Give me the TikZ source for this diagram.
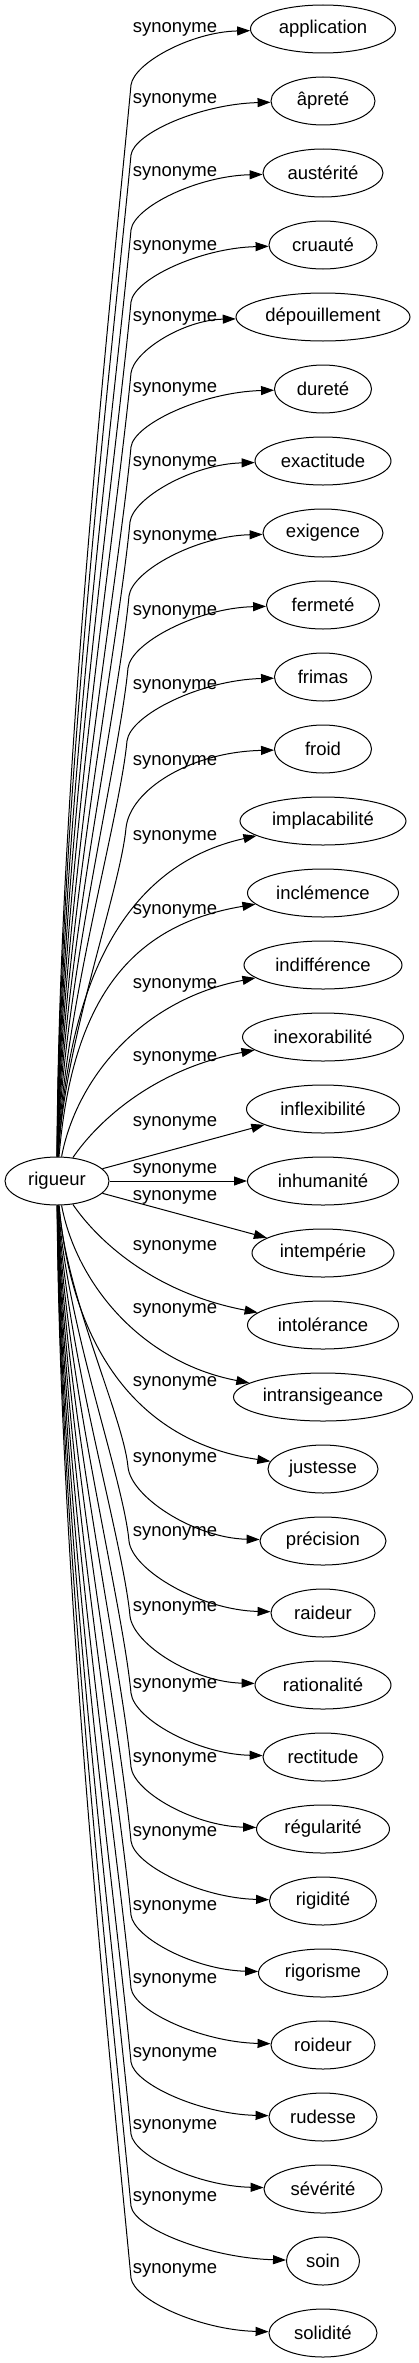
\documentclass[tikz,border=0pt]{standalone}
\usepackage{fontspec}
\setmainfont{Liberation Sans}
\usetikzlibrary{arrows.meta,shapes.geometric}
\begin{document}
\begin{tikzpicture}[x=1pt,y=-1pt,
  every node/.style={font=\fontsize{18.5}{22}\selectfont},
  term/.style={ellipse,draw,line width=1pt,minimum height=48pt,inner sep=0pt},
  lbl/.style={inner sep=0pt},
  link/.style={line width=1pt,-{Triangle[length=13pt,width=9pt]}}]
\fill[white] (0,0) rectangle (418,2363);
\useasboundingbox (0,0) rectangle (418,2363);
\node[term,minimum width=104pt] (r) at (57,1181) {rigueur};
\foreach \i/\t/\w in {0/application/145,1/âpreté/104,2/austérité/120,3/cruauté/108,4/dépouillement/174,5/dureté/97,6/exactitude/136,7/exigence/120,8/fermeté/113,9/frimas/97,10/froid/97,11/implacabilité/166,12/inclémence/151,13/indifférence/158,14/inexorabilité/161,15/inflexibilité/153,16/inhumanité/151,17/intempérie/142,18/intolérance/151,19/intransigeance/179,20/justesse/110,21/précision/126,22/raideur/104,23/rationalité/136,24/rectitude/120,25/régularité/133,26/rigidité/107,27/rigorisme/129,28/roideur/104,29/rudesse/108,30/sévérité/118,31/soin/73,32/solidité/108}
  {\node[term,minimum width=\w pt] (t\i) at (323,{29+72*\i}) {\t};}
\foreach \i/\L in {0/29,1/100,2/173,3/247,4/318,5/389,6/463,7/537,8/612,9/686,10/762,11/837,12/911,13/985,14/1058,15/1123,16/1170,17/1197,18/1247,19/1310,20/1383,21/1459,22/1533,23/1608,24/1685,25/1759,26/1833,27/1907,28/1980,29/2054,30/2126,31/2198,32/2270}
  {\node[lbl] (s\i) at (175,\L) {synonyme};}
% upper edges
\draw[link] (r) .. controls (58,782) and (112,289) .. (131,85) .. controls (134,63) and (191,32) .. (t0);
\draw[link] (r) .. controls (58.6,806) and (113,345) .. (131,155) .. controls (134,133) and (201,104) .. (t1);
\draw[link] (r) .. controls (59.2,833) and (114.3,406) .. (131,230) .. controls (134,207) and (197,176) .. (t2);
\draw[link] (r) .. controls (59.8,858) and (115.6,464) .. (131,302) .. controls (134,279) and (200,248) .. (t3);
\draw[link] (r) .. controls (60.4,883) and (116.9,522) .. (131,373) .. controls (134,351) and (183.5,320) .. (t4);
\draw[link] (r) .. controls (61,908) and (118.2,582) .. (131,447) .. controls (134,424) and (202.75,392) .. (t5);
\draw[link] (r) .. controls (61.6,935) and (118.6,643) .. (130,522) .. controls (133,498) and (192.5,464) .. (t6);
\draw[link] (r) .. controls (62.2,961) and (118.9,703) .. (129,596) .. controls (132,571) and (196,536) .. (t7);
\draw[link] (r) .. controls (62.8,986) and (119.2,761) .. (128,668) .. controls (131,643) and (197,608) .. (t8);
\draw[link] (r) .. controls (63.4,1011) and (119.5,820) .. (127,741) .. controls (130,715) and (200.75,680) .. (t9);
\draw[link] (r) .. controls (64,1042) and (120,891) .. (126,828) .. controls (130,790) and (190,752) .. (t10);
\draw[link] (r) .. controls (68,980) and (125,865) .. (t11);
\draw[link] (r) .. controls (72,1000) and (130,925) .. (t12);
\draw[link] (r) .. controls (76,1080) and (140,1000) .. (t13);
\draw[link] (r) .. controls (95,1125) and (150,1070) .. (t14);
\draw[link] (r) -- (t15);
\draw[link] (r) -- (t16);
% lower edges
\draw[link] (r) -- (t17);
\draw[link] (r) .. controls (95,1237) and (150,1292) .. (t18);
\draw[link] (r) .. controls (76,1282) and (140,1362) .. (t19);
\draw[link] (r) .. controls (70,1330) and (125,1440) .. (t20);
\draw[link] (r) .. controls (66,1297) and (123.3,1417) .. (128,1467) .. controls (131,1497) and (194,1538) .. (t21);
\draw[link] (r) .. controls (65.4,1323) and (123,1477) .. (129,1541) .. controls (132,1570) and (200,1610) .. (t22);
\draw[link] (r) .. controls (64.8,1349) and (122.6,1538) .. (130,1616) .. controls (133,1644) and (192.5,1682) .. (t23);
\draw[link] (r) .. controls (64.2,1376) and (122.2,1600) .. (131,1693) .. controls (134,1719) and (197,1754) .. (t24);
\draw[link] (r) .. controls (63.6,1402) and (121,1660) .. (131,1767) .. controls (134,1792) and (193.75,1826) .. (t25);
\draw[link] (r) .. controls (63,1428) and (119.6,1720) .. (131,1841) .. controls (134,1865) and (200.25,1898) .. (t26);
\draw[link] (r) .. controls (62.4,1453.5) and (118.2,1780) .. (131,1915) .. controls (134,1938) and (194.75,1970) .. (t27);
\draw[link] (r) .. controls (61.8,1479) and (116.9,1839) .. (131,1988) .. controls (134,2011) and (201,2042) .. (t28);
\draw[link] (r) .. controls (61.2,1505) and (115.6,1899) .. (131,2062) .. controls (134,2084) and (200,2114) .. (t29);
\draw[link] (r) .. controls (60.6,1530) and (114.3,1957) .. (131,2134) .. controls (134,2156) and (197.5,2186) .. (t30);
\draw[link] (r) .. controls (60,1555) and (113,2016) .. (131,2206) .. controls (134,2228) and (208.75,2258) .. (t31);
\draw[link] (r) .. controls (59.4,1580.5) and (111.7,2074) .. (131,2278) .. controls (134,2300) and (200,2330) .. (t32);
\end{tikzpicture}
\end{document}
